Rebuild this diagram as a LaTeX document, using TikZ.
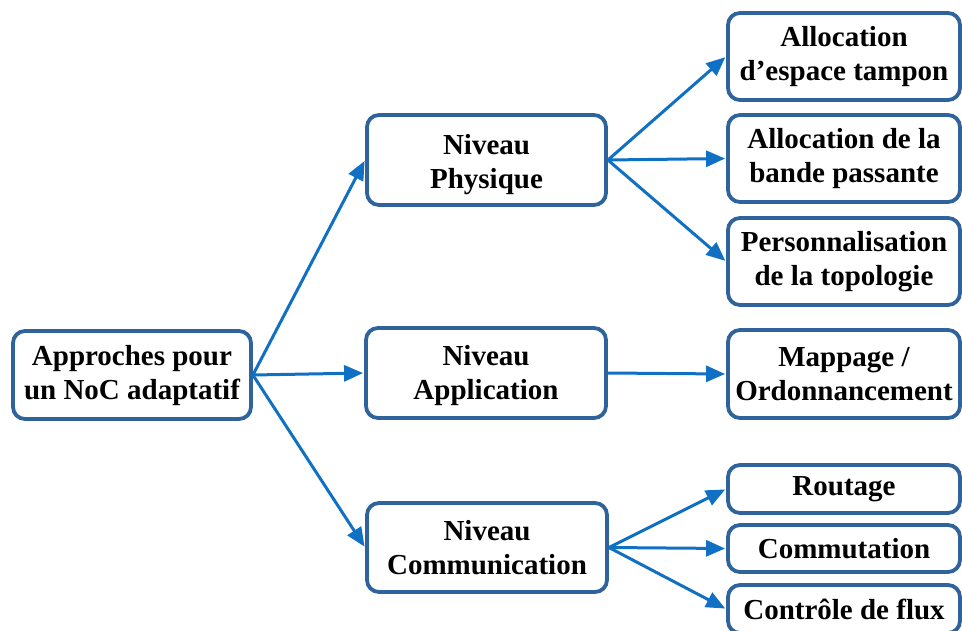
\documentclass[tikz,border=0pt]{standalone}
\usepackage{fontspec}
\setmainfont{Liberation Serif}
\usetikzlibrary{arrows.meta}
\definecolor{boxblue}{RGB}{47,99,155}
\definecolor{arrowblue}{RGB}{16,112,196}
% invisible strut that lowers a two-line label inside its box
\newcommand{\lowerby}[1]{\rule{0pt}{\dimexpr 20pt+2\dimexpr #1\relax\relax}}
\begin{document}
\begin{tikzpicture}[x=1pt,y=-1pt,
  box/.style={draw=boxblue, line width=3.8pt, rounded corners=12pt, fill=white,
    align=center, inner sep=0pt, font=\bfseries\fontsize{29}{34}\selectfont},
  link/.style={draw=arrowblue, line width=3pt,
    -{Triangle[length=19pt,width=16pt]}, shorten >=1pt}]
\clip (0,0) rectangle (962,630);
\fill[white] (0,0) rectangle (962,630);

% root
\node[box, minimum width=238pt, minimum height=88pt] (root) at (132,375) {\lowerby{1pt}Approches pour\\un NoC adaptatif};

% levels
\node[box, minimum width=239pt, minimum height=90pt] (phy) at (486.5,160) {\lowerby{5pt}Niveau\\Physique};
\node[box, minimum width=240pt, minimum height=90pt] (app) at (486,373) {\lowerby{3pt}Niveau\\Application};
\node[box, minimum width=240pt, minimum height=89pt] (com) at (487,547.5) {Niveau\\Communication};

% leaves
\node[box, minimum width=232pt, minimum height=87pt] (buf) at (844,56.5) {Allocation\\d’espace tampon};
\node[box, minimum width=232pt, minimum height=87pt] (bw) at (844,158.5) {Allocation de la\\bande passante};
\node[box, minimum width=232pt, minimum height=87pt] (topo) at (844,261.5) {Personnalisation\\de la topologie};
\node[box, minimum width=232pt, minimum height=88pt] (map) at (844,374) {Mappage /\\Ordonnancement};
\node[box, minimum width=232pt, minimum height=48pt] (rout) at (844,489) {Routage};
\node[box, minimum width=232pt, minimum height=47pt] (comm) at (844,548.5) {Commutation};
\node[box, minimum width=232pt, minimum height=48pt] (flux) at (844,609) {Contrôle de flux};

% connectors
\draw[link] (root.east) -- (phy.west);
\draw[link] (root.east) -- (app.west);
\draw[link] (root.east) -- (com.west);
\draw[link] (phy.east) -- (buf.west);
\draw[link] (phy.east) -- (bw.west);
\draw[link] (phy.east) -- (topo.west);
\draw[link] (app.east) -- (map.west);
\draw[link] (com.east) -- (rout.west);
\draw[link] (com.east) -- (comm.west);
\draw[link] (com.east) -- (flux.west);
\end{tikzpicture}
\end{document}
